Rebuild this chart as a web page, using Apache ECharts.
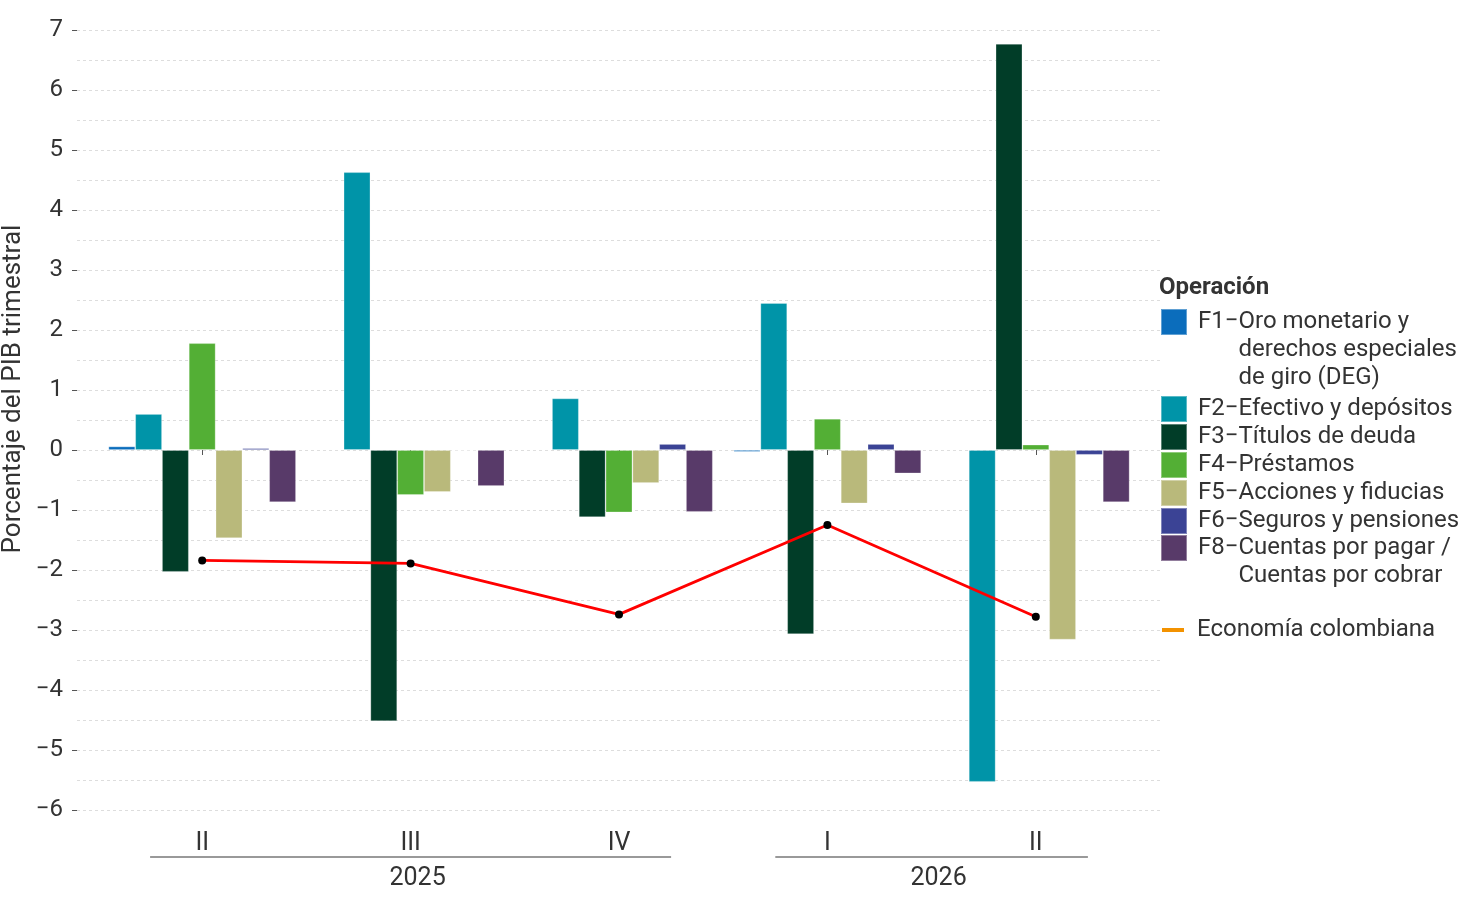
<!DOCTYPE html>
<html>
<head>
<meta charset="utf-8">
<script src="https://cdn.jsdelivr.net/npm/echarts@6/dist/echarts.min.js"></script>
<style>
  html, body { margin: 0; padding: 0; background: #fff; }
  #chart { width: 1480px; height: 900px; }
</style>
</head>
<body>
<div id="chart"></div>
<script>
// categories
const quarters = ['II', 'III', 'IV', 'I', 'II'];
const years = ['2025', '2026'];
const yearSpans = [[0, 2], [3, 4]];   // first / last quarter index of each year

// series (% del PIB trimestral)
const seriesCodes = ['F1', 'F2', 'F3', 'F4', 'F5', 'F6', 'F8'];
const legendLines = [
  ['Oro monetario y', 'derechos especiales', 'de giro (DEG)'],
  ['Efectivo y depósitos'],
  ['Títulos de deuda'],
  ['Préstamos'],
  ['Acciones y fiducias'],
  ['Seguros y pensiones'],
  ['Cuentas por pagar /', 'Cuentas por cobrar']
];
const f1 = [0.06, 0.01, 0.01, -0.03, 0.01];
const f2 = [0.60, 4.63, 0.86, 2.45, -5.53];
const f3 = [-2.03, -4.52, -1.12, -3.07, 6.77];
const f4 = [1.78, -0.75, -1.04, 0.52, 0.09];
const f5 = [-1.47, -0.70, -0.55, -0.89, -3.16];
const f6 = [0.03, -0.01, 0.10, 0.10, -0.08];
const f8 = [-0.87, -0.60, -1.03, -0.39, -0.87];
const barValues = [f1, f2, f3, f4, f5, f6, f8];

const lineName = 'Economía colombiana';
const economia = [-1.84, -1.89, -2.74, -1.25, -2.78];

const colors = ['#0b6dbc', '#0094a8', '#013d28', '#53af35', '#b9b97b', '#3b4395', '#583a69'];

const FONT = 'Roboto';
const TXT = '#333333';
const LFS = 24;   // legend font size
const LH = 28;    // legend line height

const chart = echarts.init(document.getElementById('chart'));

const minus = v => (v < 0 ? '\u2212' + Math.abs(v) : String(v));

const barSeries = seriesCodes.map((code, i) => ({
  name: code,
  type: 'bar',
  xAxisIndex: 0,
  yAxisIndex: 0,
  barGap: '0%',
  barCategoryGap: '10%',
  itemStyle: { color: colors[i], borderColor: 'rgba(255,255,255,0.35)', borderWidth: 0.8 },
  data: barValues[i]
}));

// "F1−texto", continuation lines indented by an invisible copy of the code
const legendFmt = name => {
  const i = seriesCodes.indexOf(name);
  return legendLines[i].map((l, k) =>
    (k === 0 ? '{c|' + name + '\u2212}' : '{h|' + name + '\u2212}') + '{t|' + l + '}'
  ).join('\n');
};

// padding on top keeps the first text line level with the swatch
const legendItem = (code, extraBottom) => {
  const n = legendLines[seriesCodes.indexOf(code)].length;
  return { name: code, textStyle: { padding: [(n - 1) * LH + extraBottom, 0, extraBottom, 6] } };
};

const richTok = { fontSize: LFS, fontFamily: FONT, color: TXT, lineHeight: LH };
const legendText = {
  fontSize: LFS, fontFamily: FONT, color: TXT, lineHeight: LH,
  rich: { c: richTok, t: richTok, h: Object.assign({}, richTok, { color: 'rgba(0,0,0,0)' }) }
};
const barLegend = (top, items) => ({
  orient: 'vertical',
  left: 1160,
  top: top,
  padding: 0,
  itemGap: 0,
  itemWidth: 26,
  itemHeight: 26,
  icon: 'rect',
  selectedMode: false,
  data: items,
  formatter: legendFmt,
  textStyle: legendText
});

chart.setOption({
  animation: false,
  textStyle: { fontFamily: FONT },
  title: {
    text: 'Operación',
    left: 1159,
    top: 276,
    padding: 0,
    textStyle: { fontSize: 24, fontWeight: 'bold', color: TXT, fontFamily: FONT }
  },
  legend: [
    barLegend(249, [legendItem('F1', 3)].concat(['F2', 'F3', 'F4', 'F5', 'F6'].map(c => legendItem(c, 0)))),
    barLegend(506, [legendItem('F8', 0)]),
    {
      orient: 'vertical',
      left: 1162,
      top: 616,
      padding: 0,
      itemWidth: 22,
      itemHeight: 4,
      selectedMode: false,
      data: [{ name: lineName, icon: 'rect', itemStyle: { color: '#f39200', borderWidth: 0 } }],
      textStyle: { fontSize: LFS, fontFamily: FONT, color: TXT, lineHeight: LH, padding: [0, 0, 0, 8] }
    }
  ],
  grid: [
    { left: 98, right: 340, top: 30, bottom: 90, outerBoundsMode: 'none' },
    { left: 77, right: 318, top: 30, bottom: 90, outerBoundsMode: 'none' }
  ],
  xAxis: [{
    type: 'category',
    gridIndex: 0,
    data: quarters,
    offset: 9,
    axisLine: { show: false },
    axisTick: { show: true, alignWithLabel: true, length: 5, lineStyle: { color: '#555' } },
    axisLabel: { fontSize: 25, color: TXT, margin: 12, fontFamily: FONT },
    splitLine: { show: false }
  }, {
    type: 'value',
    gridIndex: 1,
    show: false
  }],
  yAxis: [{
    type: 'value',
    gridIndex: 0,
    min: -6,
    max: 7,
    interval: 1,
    show: false,
    splitLine: { show: false }
  }, {
    type: 'value',
    gridIndex: 1,
    min: -6,
    max: 7,
    interval: 1,
    name: 'Porcentaje del PIB trimestral',
    nameLocation: 'middle',
    nameGap: 51,
    nameMoveOverlap: false,
    nameTextStyle: { fontSize: 26, color: TXT, fontFamily: FONT, padding: [0, 0, 0, 62] },
    axisLine: { show: false },
    axisTick: { show: true, length: 5, lineStyle: { color: '#555' } },
    axisLabel: { fontSize: 24, color: TXT, margin: 14, fontFamily: FONT, formatter: minus },
    splitLine: { show: true, lineStyle: { color: '#dddddd', type: [3, 3], width: 1 } },
    minorTick: { show: false, splitNumber: 2 },
    minorSplitLine: { show: true, lineStyle: { color: '#dddddd', type: [3, 3], width: 1 } }
  }],
  series: barSeries.concat([{
    name: lineName,
    type: 'line',
    xAxisIndex: 0,
    yAxisIndex: 0,
    z: 5,
    symbol: 'circle',
    symbolSize: 8,
    itemStyle: { color: '#000' },
    lineStyle: { color: '#ff0000', width: 2.8 },
    data: economia
  }])
});

// year brackets under the quarter labels
const xOf = i => chart.convertToPixel({ xAxisIndex: 0 }, i);
const catW = xOf(1) - xOf(0);
const yearGraphics = [];
years.forEach((yr, k) => {
  const x1 = xOf(yearSpans[k][0]) - catW * 0.25;
  const x2 = xOf(yearSpans[k][1]) + catW * 0.25;
  yearGraphics.push({
    type: 'line',
    shape: { x1: x1, y1: 857, x2: x2, y2: 857 },
    style: { stroke: '#999', lineWidth: 2 }
  });
  yearGraphics.push({
    type: 'text',
    x: (x1 + x2) / 2 + 7,
    y: 879,
    style: { text: yr, fontSize: 25, fontFamily: FONT, fill: TXT, align: 'center', verticalAlign: 'middle' }
  });
});
chart.setOption({ graphic: yearGraphics });
</script>
</body>
</html>
